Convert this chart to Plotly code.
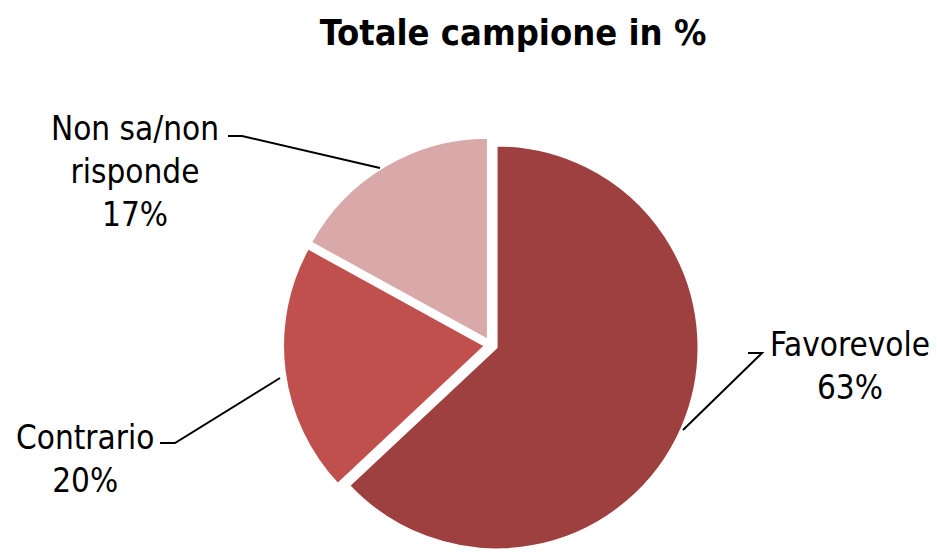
import plotly.graph_objects as go

# Survey results
categories = ["Favorevole", "Contrario", "Non sa/non risponde"]
values = [63, 20, 17]
label_lines = [["Favorevole"], ["Contrario"], ["Non sa/non", "risponde"]]
colors = ["#9E403F", "#C0504D", "#D9A9A9"]

W, H = 937, 554
FONT = "DejaVu Sans Condensed, Roboto, sans-serif"

fig = go.Figure()
fig.add_trace(go.Pie(
    labels=categories,
    values=values,
    sort=False,
    direction="clockwise",
    rotation=0,
    pull=[0.03, 0.03, 0.03],
    marker=dict(colors=colors, line=dict(color="white", width=2)),
    textinfo="none",
    hoverinfo="label+percent",
    showlegend=False,
    domain=dict(x=[283 / W, 699 / W], y=[0, 418 / H]),
))

# Data labels placed beside the pie, with leader lines
label_pos = [(850, 366), (85, 459), (135, 172)]
leaders = [
    [(748, 353), (762, 353), (683, 430)],
    [(160, 443), (175, 443), (280, 378)],
    [(228, 136), (242, 136), (380, 168)],
]
total = sum(values)
for lines, v, (x, y), pts in zip(label_lines, values, label_pos, leaders):
    text = "<br>".join(lines + [f"{round(100 * v / total)}%"])
    fig.add_annotation(
        x=x / W, y=1 - y / H, xref="paper", yref="paper",
        text=text, showarrow=False, align="center",
        xanchor="center", yanchor="middle",
        font=dict(family=FONT, size=33, color="black"),
    )
    path = "M " + " L ".join(f"{px / W},{1 - py / H}" for px, py in pts)
    fig.add_shape(type="path", path=path, xref="paper", yref="paper",
                  line=dict(color="black", width=2))

fig.update_layout(
    width=W, height=H,
    margin=dict(l=0, r=0, t=0, b=0),
    paper_bgcolor="white",
    plot_bgcolor="white",
    title=dict(
        text="<b>Totale campione in %</b>",
        x=513 / W, xanchor="center", y=1 - 32 / H, yanchor="middle",
        font=dict(family=FONT, size=36, color="black"),
    ),
)

fig.write_html("out.html")
